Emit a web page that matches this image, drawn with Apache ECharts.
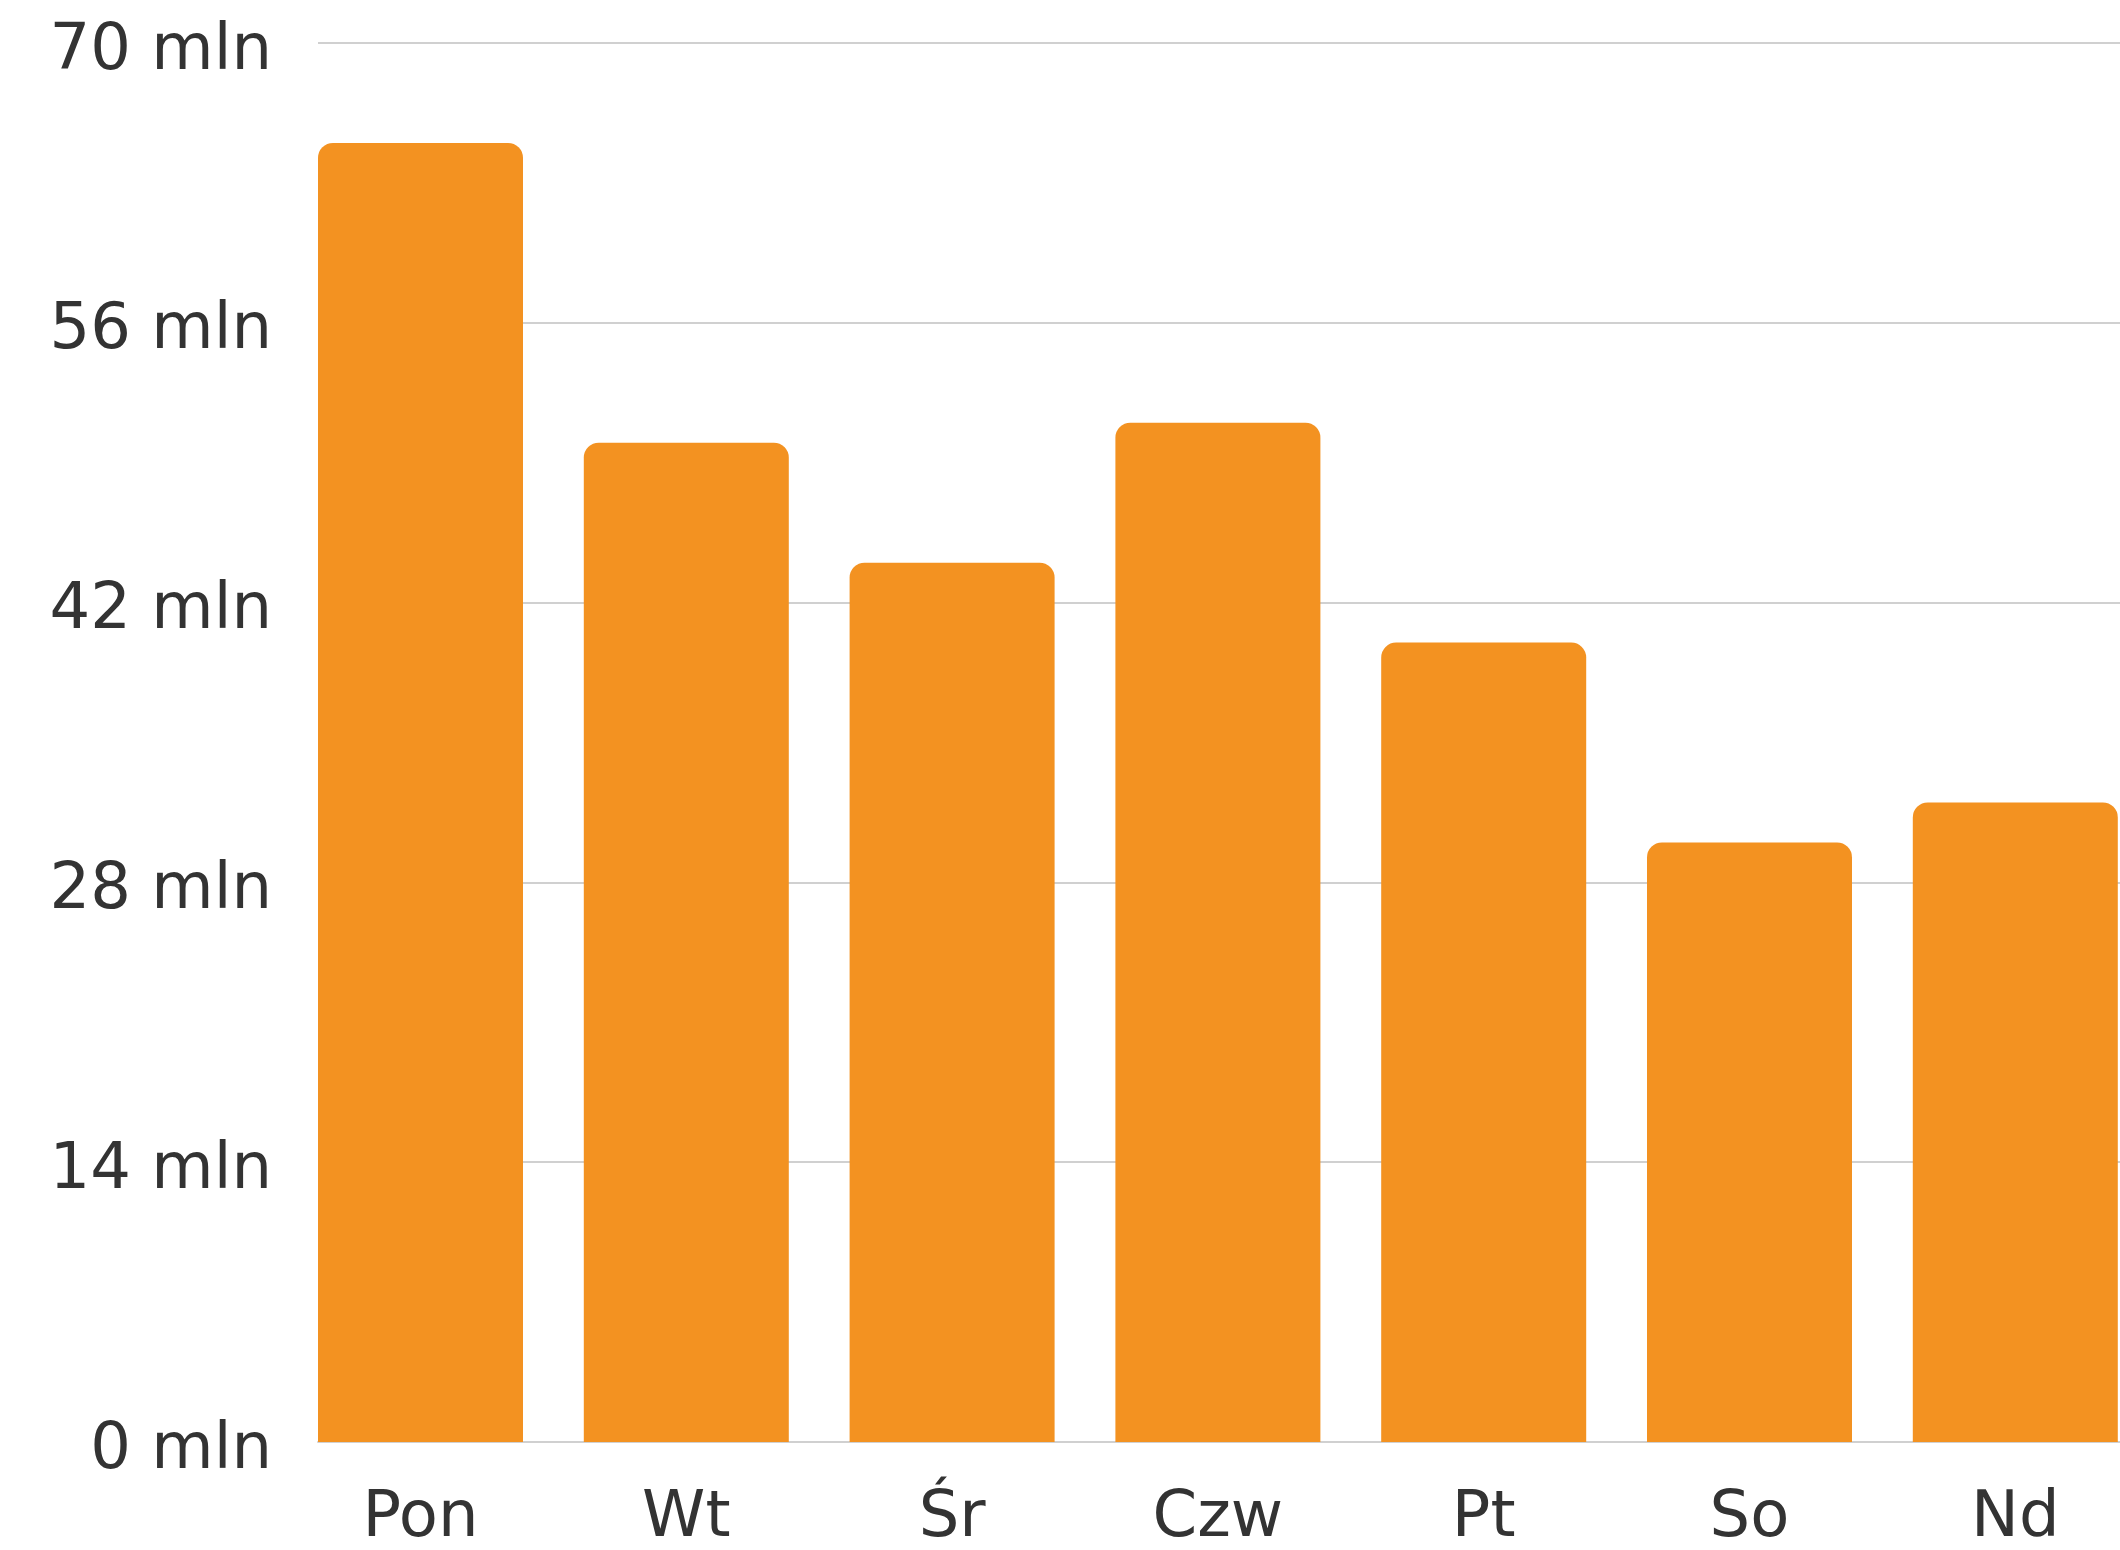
<!DOCTYPE html>
<html>
<head>
<meta charset="utf-8">
<script src="https://cdn.jsdelivr.net/npm/echarts@6/dist/echarts.min.js"></script>
<style>
  html, body { margin: 0; padding: 0; background: #fff; }
  #bar-chart { width: 2120px; height: 1550px; }
</style>
</head>
<body>
<div id="bar-chart"></div>
<script>
// dni tygodnia i wartości (mln)
const days = ['Pon', 'Wt', 'Śr', 'Czw', 'Pt', 'So', 'Nd']
const values = [65, 50, 44, 51, 40, 30, 32]
const yMin = 0
const yMax = 70
const yStep = 14

const barColor = '#f39221'
const textColor = '#333333'
const lineColor = '#d0d0d0'
const font = '"DejaVu Sans", sans-serif'

const chart = echarts.init(document.getElementById('bar-chart'))

chart.setOption({
  animation: false,
  grid: [
    // siatka + oś Y
    { left: 318, right: 0, top: 43, bottom: 108, outerBoundsMode: 'none' },
    // słupki + etykiety dni (szersza, wychodzi poza prawą krawędź)
    { left: 287.6, width: 1860.6, top: 43, bottom: 108, outerBoundsMode: 'none' }
  ],
  xAxis: [
    {
      gridIndex: 0,
      type: 'category',
      data: days,
      axisLine: { show: true, lineStyle: { color: lineColor, width: 2 } },
      axisTick: { show: false },
      axisLabel: { show: false },
      splitLine: { show: false }
    },
    {
      gridIndex: 1,
      type: 'category',
      data: days,
      axisLine: { show: false },
      axisTick: { show: false },
      axisLabel: {
        margin: 45,
        fontSize: 64,
        fontFamily: font,
        color: textColor
      }
    }
  ],
  yAxis: [
    {
      gridIndex: 0,
      type: 'value',
      min: yMin,
      max: yMax,
      interval: yStep,
      axisLine: { show: false },
      axisTick: { show: false },
      axisLabel: {
        margin: 46,
        formatter: v => '{v|' + v + ' mln}',
        rich: {
          v: {
            fontSize: 64,
            fontFamily: font,
            color: textColor,
            padding: [18, 0, 0, 0]
          }
        }
      },
      splitLine: { lineStyle: { color: lineColor, width: 2 } }
    },
    {
      gridIndex: 1,
      type: 'value',
      min: yMin,
      max: yMax,
      interval: yStep,
      show: false,
      splitLine: { show: false }
    }
  ],
  series: [
    {
      type: 'bar',
      xAxisIndex: 1,
      yAxisIndex: 1,
      data: values,
      barWidth: 205,
      itemStyle: {
        color: barColor,
        borderRadius: [15, 15, 0, 0]
      }
    }
  ]
})
</script>
</body>
</html>
